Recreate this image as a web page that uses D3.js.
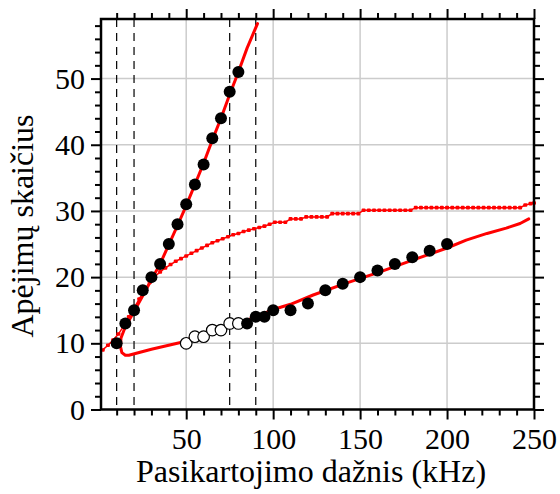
<!DOCTYPE html>
<html>
<head>
<meta charset="utf-8">
<script src="https://cdn.jsdelivr.net/npm/d3@7"></script>
<style>
	body { margin: 0; background: #fff; }
</style>
</head>
<body>
<svg id="graph"></svg>
<script>
// measured points, steep branch (filled dots)
const steepX = [10, 15, 20, 25, 30, 35, 40, 45, 50, 55, 60, 65, 70, 75, 80];
const steepY = [10, 13, 15, 18, 20, 22, 25, 28, 31, 34, 37, 41, 44, 48, 51];

// lower branch: open circles then filled dots
const openX = [50, 55, 60, 65, 70, 75, 80];
const openY = [10, 11, 11, 12, 12, 13, 13];
const lowX = [85, 90, 95, 100, 110, 120, 130, 140, 150, 160, 170, 180, 190, 200];
const lowY = [13, 14, 14, 15, 15, 16, 18, 19, 20, 21, 22, 23, 24, 25];

// solid red model curve (steep part, hook, lower part)
const curveX = [91, 85, 80, 75, 70, 65, 60, 55, 50, 45, 40, 35, 30, 25, 20, 15, 12.5, 12.2, 13, 15, 17, 30, 48, 55, 71, 85, 100, 110, 123, 142, 161.5, 180.6, 200, 211, 223, 234, 242, 247];
const curveY = [58.3, 54.6, 51, 47.6, 44, 40.7, 37.2, 34, 30.8, 27.8, 24.9, 22, 19.6, 17.2, 14.8, 12.5, 10.8, 9.5, 8.6, 8.2, 8.2, 9.1, 10.2, 11, 12.3, 13.5, 15.1, 15.9, 17.3, 19.1, 20.8, 22.6, 24.4, 25.6, 26.6, 27.4, 28.1, 28.8];

// dotted red curve
const dotX = [2, 5, 8, 11, 14, 17, 20, 23, 26, 29, 32, 35, 38, 41, 44, 47, 50, 53, 56, 59, 62, 65, 68, 71, 74, 77, 80, 83, 86, 89, 92, 95, 98, 101, 104, 107, 110, 113, 116, 119, 122, 125, 128, 131, 134, 137, 140, 143, 146, 149, 152, 155, 158, 161, 164, 167, 170, 173, 176, 179, 182, 185, 188, 191, 194, 197, 200, 203, 206, 209, 212, 215, 218, 221, 224, 227, 230, 233, 236, 239, 242, 245, 248, 250];
const dotY = [9.0, 9.7, 10.5, 11.4, 12.6, 14.0, 15.3, 16.7, 18.0, 19.2, 20.1, 20.8, 21.4, 21.9, 22.4, 22.8, 23.2, 23.6, 24.0, 24.4, 24.8, 25.2, 25.5, 25.8, 26.1, 26.4, 26.6, 26.9, 27.1, 27.3, 27.5, 27.7, 28.0, 28.3, 28.3, 28.3, 28.8, 28.8, 28.8, 29.1, 29.1, 29.1, 29.1, 29.1, 29.6, 29.6, 29.6, 29.6, 29.6, 29.6, 30.1, 30.1, 30.1, 30.1, 30.1, 30.1, 30.1, 30.1, 30.1, 30.1, 30.5, 30.5, 30.5, 30.5, 30.5, 30.5, 30.5, 30.5, 30.5, 30.5, 30.5, 30.5, 30.5, 30.5, 30.5, 30.5, 30.5, 30.5, 30.5, 30.5, 30.5, 30.9, 31.1, 31.2];

// vertical dashed markers
const dashX = [10, 20, 75, 90];

// ticks
const xMajor = [50, 100, 150, 200, 250];
const xMinor = [10, 20, 30, 40, 60, 70, 80, 90, 110, 120, 130, 140, 160, 170, 180, 190, 210, 220, 230, 240];
const yMajor = [0, 10, 20, 30, 40, 50];
const yMinor = [2, 4, 6, 8, 12, 14, 16, 18, 22, 24, 26, 28, 32, 34, 36, 38, 42, 44, 46, 48, 52, 54, 56, 58];

const xTitle = "Pasikartojimo dažnis (kHz)";
const yTitle = "Apėjimų skaičius";

const serif = '"Liberation Serif", "Times New Roman", Times, "DejaVu Serif", serif';
const w = 560, h = 494;
const pLeft = 101, pRight = 534, pTop = 19, pBottom = 409.5;

const svg = d3.select("#graph").attr("width", w).attr("height", h);

const xScale = d3.scaleLinear().domain([1, 250]).range([pLeft, pRight]);
const yScale = d3.scaleLinear().domain([0, 59]).range([pBottom, pTop]);

// grid lines at major ticks
svg.append("g")
	.selectAll("line")
	.data(xMajor.filter((d) => d < 250))
	.enter()
	.append("line")
	.attr("x1", (d) => xScale(d))
	.attr("x2", (d) => xScale(d))
	.attr("y1", pTop)
	.attr("y2", pBottom)
	.style("stroke", "#cccccc")
	.style("stroke-width", 1.5);
svg.append("g")
	.selectAll("line")
	.data(yMajor.filter((d) => d > 0))
	.enter()
	.append("line")
	.attr("x1", pLeft)
	.attr("x2", pRight)
	.attr("y1", (d) => yScale(d))
	.attr("y2", (d) => yScale(d))
	.style("stroke", "#cccccc")
	.style("stroke-width", 1.5);

// dashed verticals
svg.append("g")
	.selectAll("line")
	.data(dashX)
	.enter()
	.append("line")
	.attr("x1", (d) => xScale(d))
	.attr("x2", (d) => xScale(d))
	.attr("y1", pTop)
	.attr("y2", pBottom)
	.style("stroke", "#000")
	.style("stroke-width", 1.2)
	.style("stroke-dasharray", "8,6");

const line = d3.line()
	.x((d) => xScale(d[0]))
	.y((d) => yScale(d[1]));

// dotted curve: thin line with small markers
const dotPts = dotX.map((x, i) => [x, dotY[i]]);
svg.append("path")
	.attr("d", line(dotPts))
	.style("fill", "none")
	.style("stroke", "#ff0000")
	.style("stroke-width", 1.5);
svg.append("g")
	.selectAll("rect")
	.data(dotPts)
	.enter()
	.append("rect")
	.attr("x", (d) => xScale(d[0]) - 2)
	.attr("y", (d) => yScale(d[1]) - 1.8)
	.attr("width", 4)
	.attr("height", 3.6)
	.attr("rx", 1)
	.style("fill", "#ff0000");

// solid model curve
svg.append("path")
	.attr("d", line(curveX.map((x, i) => [x, curveY[i]])))
	.style("fill", "none")
	.style("stroke", "#ff0000")
	.style("stroke-width", 3)
	.style("stroke-linejoin", "round")
	.style("stroke-linecap", "round");

// open circles
svg.append("g")
	.selectAll("circle")
	.data(openX.map((x, i) => [x, openY[i]]))
	.enter()
	.append("circle")
	.attr("cx", (d) => xScale(d[0]))
	.attr("cy", (d) => yScale(d[1]))
	.attr("r", 5.8)
	.style("fill", "#fff")
	.style("stroke", "#000")
	.style("stroke-width", 1.2);

// filled dots
svg.append("g")
	.selectAll("circle")
	.data(steepX.map((x, i) => [x, steepY[i]]).concat(lowX.map((x, i) => [x, lowY[i]])))
	.enter()
	.append("circle")
	.attr("cx", (d) => xScale(d[0]))
	.attr("cy", (d) => yScale(d[1]))
	.attr("r", 6)
	.style("fill", "#000");

// axes: minor ticks without labels, major ticks with labels on bottom/left
function styleAxis(g) {
	g.attr("font-family", serif).attr("font-size", 30);
	g.select(".domain").remove();
	g.selectAll(".tick line").style("stroke", "#000").style("stroke-width", 2);
	g.selectAll(".tick text").attr("font-family", serif).style("font-size", "30px").style("fill", "#000");
}
const axes = [
	[d3.axisBottom, "translate(0," + pBottom + ")", xScale, xMajor, xMinor, true],
	[d3.axisTop, "translate(0," + pTop + ")", xScale, xMajor, xMinor, false],
	[d3.axisLeft, "translate(" + pLeft + ",0)", yScale, yMajor, yMinor, true],
	[d3.axisRight, "translate(" + pRight + ",0)", yScale, yMajor, yMinor, false],
];
axes.forEach(([fn, tr, sc, major, minor, labels]) => {
	svg.append("g")
		.attr("transform", tr)
		.call(fn(sc).tickValues(minor).tickSize(6).tickFormat(""))
		.call(styleAxis);
	svg.append("g")
		.attr("transform", tr)
		.call(fn(sc).tickValues(major).tickSize(10).tickPadding(fn === d3.axisBottom ? 8 : 6).tickFormat(labels ? d3.format("d") : ""))
		.call(styleAxis);
});

// frame
svg.append("rect")
	.attr("x", pLeft)
	.attr("y", pTop)
	.attr("width", pRight - pLeft)
	.attr("height", pBottom - pTop)
	.style("fill", "none")
	.style("stroke", "#000")
	.style("stroke-width", 2.5);

// axis titles
svg.append("text")
	.attr("x", 311)
	.attr("y", 482)
	.attr("text-anchor", "middle")
	.attr("font-family", serif)
	.style("font-size", "32px")
	.text(xTitle);
svg.append("text")
	.attr("transform", "translate(33,226) rotate(-90)")
	.attr("text-anchor", "middle")
	.attr("font-family", serif)
	.style("font-size", "32px")
	.text(yTitle);
</script>
</body>
</html>
